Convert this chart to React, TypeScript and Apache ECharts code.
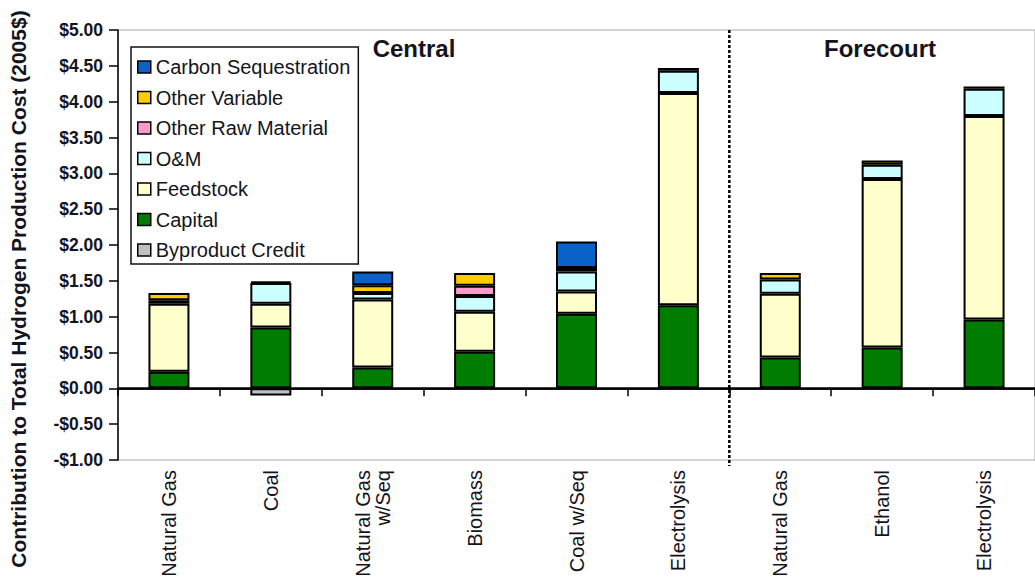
import React, { useEffect, useRef } from "react";
import * as echarts from "echarts";

// Production pathways (central plants, then forecourt stations)
const categories = [
  "Natural Gas",
  "Coal",
  "Natural Gas\nw/Seq",
  "Biomass",
  "Coal w/Seq",
  "Electrolysis",
  "Natural Gas",
  "Ethanol",
  "Electrolysis",
];

// Cost components, $/kg H2 (2005$)
const capital = [0.23, 0.85, 0.29, 0.51, 1.04, 1.16, 0.43, 0.57, 0.96];
const feedstock = [0.95, 0.33, 0.95, 0.56, 0.31, 2.96, 0.89, 2.35, 2.84];
const oAndM = [0.05, 0.29, 0.09, 0.22, 0.28, 0.31, 0.2, 0.2, 0.38];
const otherRawMaterial = [0, 0, 0, 0.14, 0, 0, 0, 0, 0];
const otherVariable = [0.1, 0.02, 0.11, 0.18, 0.05, 0.04, 0.09, 0.06, 0.03];
const carbonSequestration = [0, 0, 0.19, 0, 0.37, 0, 0, 0, 0];
const byproductCredit = [0, -0.1, 0, 0, 0, 0, 0, 0, 0];

const yTicks = { min: -1, max: 5, step: 0.5 };

const FONT = 'Arial, "Liberation Sans", sans-serif';
const TEXT = "#141420";

const stackOrder = [
  { name: "Capital", data: capital, color: "#007C00" },
  { name: "Feedstock", data: feedstock, color: "#FFFFCC" },
  { name: "O&M", data: oAndM, color: "#CCFFFF" },
  { name: "Other Raw Material", data: otherRawMaterial, color: "#FF99CC" },
  { name: "Other Variable", data: otherVariable, color: "#FFCC00" },
  { name: "Carbon Sequestration", data: carbonSequestration, color: "#0A62C8" },
  { name: "Byproduct Credit", data: byproductCredit, color: "#C0C0C0" },
];

const legendOrder = [
  "Carbon Sequestration",
  "Other Variable",
  "Other Raw Material",
  "O&M",
  "Feedstock",
  "Capital",
  "Byproduct Credit",
];

const fmtDollar = (v: number) =>
  (v < 0 ? "-$" : "$") + Math.abs(v).toFixed(2);

export default function App() {
  const ref = useRef<HTMLDivElement>(null);

  useEffect(() => {
    if (!ref.current) return;
    const chart = echarts.init(ref.current, null, { renderer: "svg" });

    const series: any[] = stackOrder.map((s, i) => ({
      name: s.name,
      type: "bar",
      stack: "cost",
      barWidth: 41,
      data: s.data.map((v) => (v === 0 ? null : v)),
      itemStyle: { color: s.color, borderColor: "#000", borderWidth: 2 },
      emphasis: { disabled: true },
      ...(i === 0
        ? {
            markLine: {
              silent: true,
              symbol: "none",
              label: { show: false },
              lineStyle: { color: "#000", width: 2.5, type: "solid" },
              data: [{ yAxis: 0 }],
              z: 10,
            },
          }
        : {}),
    }));

    chart.setOption({
      animation: false,
      grid: {
        left: 118,
        top: 30,
        width: 927,
        height: 430,
        show: true,
        borderColor: "#a8a8a8",
        borderWidth: 1,
        backgroundColor: "transparent",
      },
      legend: {
        data: legendOrder,
        orient: "vertical",
        left: 131,
        top: 47,
        icon: "rect",
        itemWidth: 13,
        itemHeight: 12,
        itemGap: 10.5,
        padding: [10, 8, 4, 6],
        borderColor: "#111",
        borderWidth: 1.5,
        backgroundColor: "#fff",
        itemStyle: { borderColor: "#000", borderWidth: 1.5 },
        textStyle: { fontFamily: FONT, fontSize: 20, color: TEXT },
        selectedMode: false,
      },
      xAxis: {
        type: "category",
        data: categories,
        axisLine: { lineStyle: { color: "#000", width: 1.5 } },
        axisTick: { show: true, length: 8, lineStyle: { color: "#000", width: 1.5 } },
        axisLabel: {
          rotate: 90,
          interval: 0,
          margin: 10,
          fontFamily: FONT,
          fontSize: 20,
          lineHeight: 20,
          color: TEXT,
        },
      },
      yAxis: {
        type: "value",
        min: yTicks.min,
        max: yTicks.max,
        interval: yTicks.step,
        splitLine: { show: false },
        axisLine: { show: true, lineStyle: { color: "#000", width: 1.5 } },
        axisTick: { show: true, length: 9, lineStyle: { color: "#000", width: 1.5 } },
        axisLabel: {
          margin: 15,
          formatter: fmtDollar,
          fontFamily: FONT,
          fontSize: 17.5,
          fontWeight: "bold",
          color: TEXT,
        },
      },
      graphic: {
        elements: [
          {
            id: "ytitle",
            type: "text",
            x: 18,
            y: 289,
            rotation: Math.PI / 2,
            style: {
              text: "Contribution to Total Hydrogen Production Cost (2005$)",
              fontFamily: FONT,
              fontSize: 21,
              fontWeight: "bold",
              fill: TEXT,
              align: "center",
              verticalAlign: "middle",
            },
          },
          {
            id: "central",
            type: "text",
            x: 414,
            y: 48,
            style: {
              text: "Central",
              fontFamily: FONT,
              fontSize: 24,
              fontWeight: "bold",
              fill: TEXT,
              align: "center",
              verticalAlign: "middle",
            },
          },
          {
            id: "forecourt",
            type: "text",
            x: 880,
            y: 48,
            style: {
              text: "Forecourt",
              fontFamily: FONT,
              fontSize: 24,
              fontWeight: "bold",
              fill: TEXT,
              align: "center",
              verticalAlign: "middle",
            },
          },
        ],
      },
      series,
    });

    // Divider between the central and forecourt groups
    const xa = chart.convertToPixel({ xAxisIndex: 0 }, 5) as number;
    const xb = chart.convertToPixel({ xAxisIndex: 0 }, 6) as number;
    const yTop = chart.convertToPixel({ yAxisIndex: 0 }, yTicks.max) as number;
    const yBot = chart.convertToPixel({ yAxisIndex: 0 }, yTicks.min) as number;
    const xm = (xa + xb) / 2;
    chart.setOption({
      graphic: {
        elements: [
          {
            id: "divider",
            type: "line",
            z: 20,
            shape: { x1: xm, y1: yTop, x2: xm, y2: yBot + 6 },
            style: { stroke: "#000", lineWidth: 2.5, lineDash: [3, 2] },
          },
        ],
      },
    });

    return () => chart.dispose();
  }, []);

  return (
    <div
      ref={ref}
      style={{ position: "fixed", left: 0, top: 0, width: 1035, height: 581, background: "#fff" }}
    />
  );
}
